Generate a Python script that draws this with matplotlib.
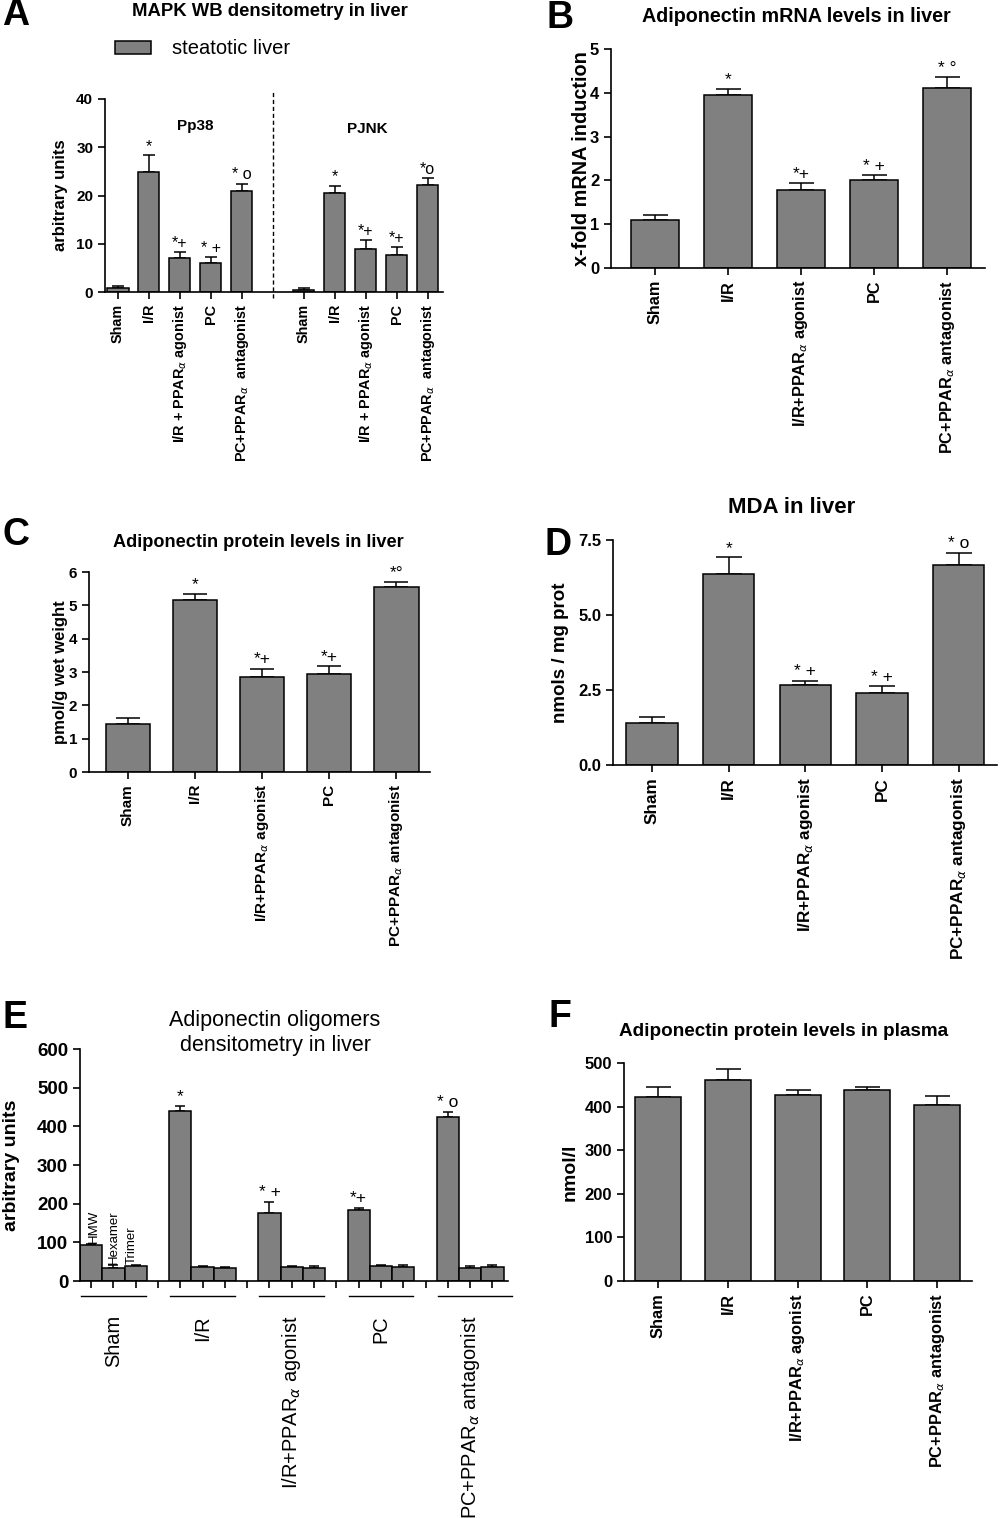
import numpy as np
import matplotlib
matplotlib.use('Agg')
import matplotlib.pyplot as plt
from matplotlib.patches import Patch

plt.rcParams['font.family'] = ['Liberation Sans', 'DejaVu Sans']
plt.rcParams['mathtext.fontset'] = 'dejavusans'

# ---- daten ----
groups = ['Sham', 'I/R', 'I/R+PPAR$_{\\alpha}$ agonist', 'PC', 'PC+PPAR$_{\\alpha}$ antagonist']
groups_a = ['Sham', 'I/R', 'I/R + PPAR$_{\\alpha}$ agonist', 'PC', 'PC+PPAR$_{\\alpha}$  antagonist']

# A: MAPK WB
p38_mean = [0.8, 24.8, 7.0, 6.0, 20.9]
p38_err = [0.45, 3.5, 1.2, 1.25, 1.55]
p38_marks = ['', '*', '*+', '* +', '* o']
pjnk_mean = [0.5, 20.45, 8.85, 7.6, 22.25]
pjnk_err = [0.3, 1.55, 1.85, 1.65, 1.3]
pjnk_marks = ['', '*', '*+', '*+', '*o']

# B: mRNA
mrna_mean = [1.10, 3.95, 1.77, 2.00, 4.12]
mrna_err = [0.10, 0.14, 0.16, 0.12, 0.24]
mrna_marks = ['', '*', '*+', '* +', '* \u00b0']

# C: protein liver
prot_mean = [1.44, 5.16, 2.86, 2.95, 5.56]
prot_err = [0.19, 0.18, 0.24, 0.23, 0.14]
prot_marks = ['', '*', '*+', '*+', '*\u00b0']

# D: MDA
mda_mean = [1.39, 6.36, 2.67, 2.40, 6.66]
mda_err = [0.22, 0.56, 0.14, 0.22, 0.42]
mda_marks = ['', '*', '* +', '* +', '* o']

# E: oligomere
oligo_names = ['HMW', 'Hexamer', 'Trimer']
hmw_mean = [94, 440, 177, 183, 423]
hmw_err = [2, 13, 28, 7, 15]
hex_mean = [34, 36, 35, 40, 34]
hex_err = [7, 3, 4, 2, 6]
tri_mean = [40, 34, 34, 36, 36]
tri_err = [2, 2, 6, 6, 6]
oligo_marks = ['', '*', '* +', '*+', '* o']

# F: plasma
plasma_mean = [422, 462, 426, 437, 404]
plasma_err = [22, 24, 13, 9, 20]

GREY = '#808080'
W, H = 1000, 1518

fig = plt.figure(figsize=(W / 100, H / 100), dpi=100)


def add_ax(x0, y0, x1, y1):
    return fig.add_axes([x0 / W, 1 - y1 / H, (x1 - x0) / W, (y1 - y0) / H])


def style(ax, ytick_fs, lab_x, ylabel, ylabel_fs=12):
    for s in ['top', 'right']:
        ax.spines[s].set_visible(False)
    for s in ['left', 'bottom']:
        ax.spines[s].set_linewidth(1.2)
    ax.tick_params(direction='out', length=5, width=1.2)
    ax.tick_params(axis='y', labelsize=ytick_fs)
    for t in ax.get_yticklabels():
        t.set_fontweight('bold')
    ax.set_ylabel(ylabel, fontsize=ylabel_fs, fontweight='bold', va='center')
    ax.yaxis.set_label_coords(lab_x, 0.5)


def bars(ax, x, mean, err, marks, width, cap, mark_fs=12.5):
    x = np.asarray(x)
    ax.bar(x, mean, width=width, color=GREY, edgecolor='black', linewidth=1.1, zorder=2)
    ax.errorbar(x, mean, yerr=[np.zeros(len(err)), err], fmt='none', ecolor='black',
                elinewidth=1.1, capsize=cap, capthick=1.1, zorder=1)
    for xi, m, e, mk in zip(x, mean, err, marks):
        if mk:
            ax.annotate(mk, (xi, m + e), xytext=(0, 1), textcoords='offset points',
                        ha='center', va='bottom', fontsize=mark_fs)


def letter(x, y, s):
    fig.text(x / W, 1 - y / H, s, fontsize=27, fontweight='bold', ha='center', va='center')


def title(x, y, s, fs, weight='bold'):
    fig.text(x / W, 1 - y / H, s, fontsize=fs, fontweight=weight, ha='center', va='center')


# ---------------- A ----------------
ax = add_ax(105, 99, 443, 292)
xa1 = np.arange(5)
xa2 = np.arange(5) + 6
bars(ax, xa1, p38_mean, p38_err, p38_marks, 0.68, 4, mark_fs=11.5)
bars(ax, xa2, pjnk_mean, pjnk_err, pjnk_marks, 0.68, 4, mark_fs=11.5)
ax.set_xlim(-0.42, 10.5)
ax.set_ylim(0, 40)
ax.set_yticks([0, 10, 20, 30, 40])
ax.set_xticks(np.concatenate([xa1, xa2]), groups_a + groups_a, rotation=90,
              fontsize=10.4, fontweight='bold')
ax.axvline(5, ymin=-0.03, ymax=1.047, clip_on=False, color='black', lw=1,
           linestyle=(0, (3, 2)))
ax.text(2.5, 34.4, 'Pp38', ha='center', va='center', fontsize=11, fontweight='bold')
ax.text(8.06, 33.8, 'PJNK', ha='center', va='center', fontsize=11, fontweight='bold')
style(ax, 11, -0.133, 'arbitrary units', 12)
fig.legend(handles=[Patch(facecolor=GREY, edgecolor='black', linewidth=1.1)],
           labels=['steatotic liver'], loc='center left',
           bbox_to_anchor=(97 / W, 1 - 49 / H), frameon=False, fontsize=14.5,
           handlelength=1.8, handleheight=0.6, handletextpad=1.0)
letter(16, 15, 'A')
title(270, 11, 'MAPK WB densitometry in liver', 13.3)

# ---------------- B ----------------
ax = add_ax(611, 49, 985, 268)
xb = np.arange(5)
bars(ax, xb, mrna_mean, mrna_err, mrna_marks, 0.66, 9)
ax.set_xlim(-0.6, 4.52)
ax.set_ylim(0, 5)
ax.set_yticks(range(6))
ax.set_xticks(xb, groups, rotation=90, fontsize=11.7, fontweight='bold')
style(ax, 12, -0.078, 'x-fold mRNA induction', 14.3)
letter(560, 18, 'B')
title(796, 17, 'Adiponectin mRNA levels in liver', 14.2)

# ---------------- C ----------------
ax = add_ax(89, 572, 430, 772)
xc = np.arange(5)
bars(ax, xc, prot_mean, prot_err, prot_marks, 0.66, 8.5)
ax.set_xlim(-0.58, 4.5)
ax.set_ylim(0, 6)
ax.set_yticks(range(7))
ax.set_xticks(xc, groups, rotation=90, fontsize=11, fontweight='bold')
style(ax, 11, -0.085, 'pmol/g wet weight', 12)
letter(16, 535, 'C')
title(258, 543, 'Adiponectin protein levels in liver', 13.1)

# ---------------- D ----------------
ax = add_ax(613, 540, 997, 765)
xd = np.arange(5)
bars(ax, xd, mda_mean, mda_err, mda_marks, 0.67, 9.5)
ax.set_xlim(-0.51, 4.5)
ax.set_ylim(0, 7.5)
ax.set_yticks([0, 2.5, 5.0, 7.5], ['0.0', '2.5', '5.0', '7.5'])
ax.set_xticks(xd, groups, rotation=90, fontsize=12.3, fontweight='bold')
style(ax, 12, -0.138, 'nmols / mg prot', 13.5)
letter(558, 545, 'D')
title(792, 507, 'MDA in liver', 16)

# ---------------- E ----------------
ax = add_ax(80, 1049, 508, 1281)
g = np.arange(5) * 4
bars(ax, g, hmw_mean, hmw_err, oligo_marks, 1.0, 3.5)
bars(ax, g + 1, hex_mean, hex_err, [''] * 5, 1.0, 3.5)
bars(ax, g + 2, tri_mean, tri_err, [''] * 5, 1.0, 3.5)
ax.set_xlim(-0.5, 18.7)
ax.set_ylim(0, 600)
ax.set_yticks(range(0, 700, 100))
ax.set_xticks(np.arange(19), [''] * 19)
ax.tick_params(axis='x', length=7)
style(ax, 13.5, -0.159, 'arbitrary units', 14)
# kleine labels ueber sham-balken
for k, (nm, m, e) in enumerate(zip(oligo_names, [hmw_mean[0], hex_mean[0], tri_mean[0]],
                                   [hmw_err[0], hex_err[0], tri_err[0]])):
    ax.text(k + (0.1 if k == 0 else -0.2 if k == 2 else 0.0), m + e + 3, nm, rotation=90,
            ha='center', va='bottom', fontsize=9.5)
# gruppen-unterstriche + labels
trans = ax.get_xaxis_transform()
for i, c in enumerate(g + 1):
    right = c + 1.45 if i < 4 else 18.9
    ax.plot([c - 1.45, right], [-0.065, -0.065], transform=trans, clip_on=False,
            color='black', lw=1)
    ax.text(c, -0.147, groups[i], transform=trans, rotation=90, ha='center', va='top',
            fontsize=14.4)
letter(15, 1018, 'E')
title(275, 1033, 'Adiponectin oligomers\ndensitometry in liver', 15.5, weight='normal')

# ---------------- F ----------------
ax = add_ax(624, 1063, 972, 1281)
xf = np.arange(5)
bars(ax, xf, plasma_mean, plasma_err, [''] * 5, 0.66, 9)
ax.set_xlim(-0.49, 4.5)
ax.set_ylim(0, 500)
ax.set_yticks(range(0, 600, 100))
ax.set_xticks(xf, groups, rotation=90, fontsize=11.8, fontweight='bold')
style(ax, 12, -0.155, 'nmol/l', 14)
letter(560, 1017, 'F')
title(784, 1032, 'Adiponectin protein levels in plasma', 13.6)

fig.savefig('out.png', dpi=100)
